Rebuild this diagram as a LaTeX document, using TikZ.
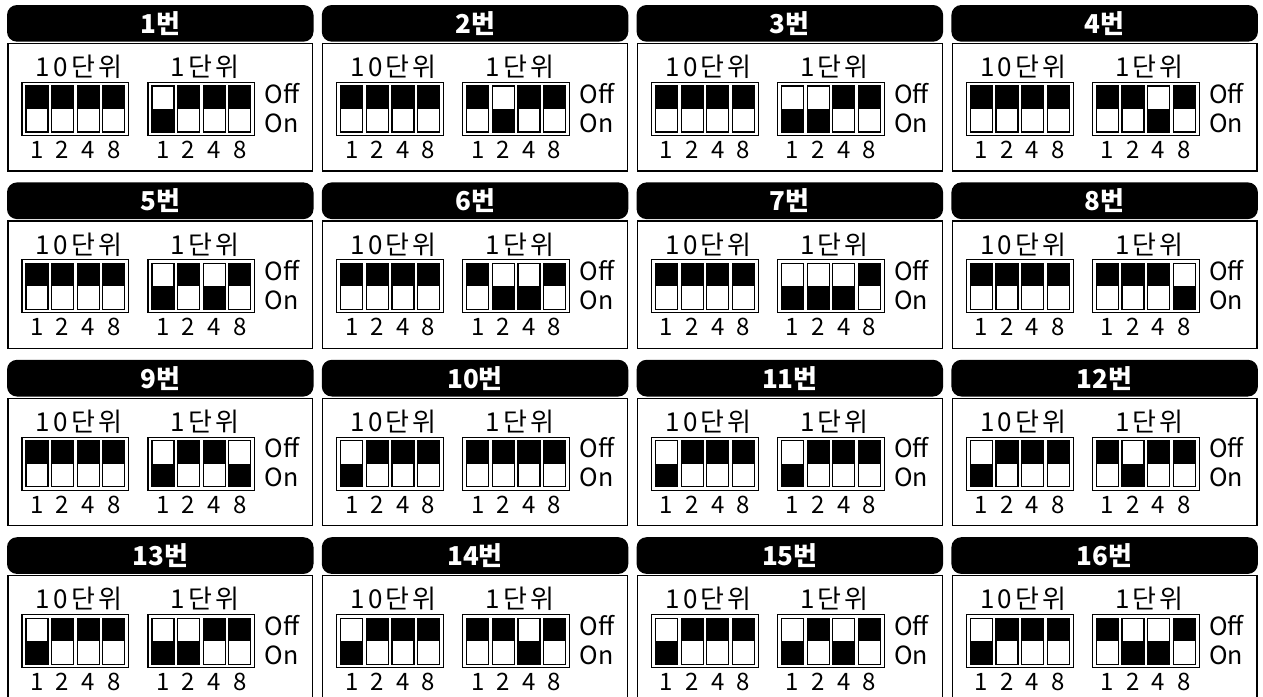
\documentclass[tikz,border=0pt]{standalone}
\usepackage{fontspec}
\setmainfont{Noto Sans CJK KR}
\newfontfamily\spacedkr[LetterSpace=12]{Noto Sans CJK KR}
\begin{document}
\begin{tikzpicture}[x=1pt,y=-1pt,
  hdr/.style={fill=black,rounded corners=10pt},
  hdrtext/.style={text=white,font=\fontsize{26}{26}\selectfont\bfseries,inner sep=0pt},
  body/.style={draw=black,line width=1.2pt},
  grp/.style={draw=black,line width=1.1pt},
  sw/.style={draw=black,line width=1.3pt},
  unit/.style={font=\spacedkr\fontsize{26}{26}\selectfont,inner sep=0pt},
  state/.style={font=\fontsize{25}{25}\selectfont,inner sep=0pt,anchor=base west},
  digit/.style={font=\fontsize{24}{24}\selectfont,inner sep=0pt,anchor=base}]
\useasboundingbox (0,0) rectangle (1263,696);
\clip (0,0) rectangle (1263,696);
\foreach \n in {1,...,16}{
  \pgfmathtruncatemacro\col{mod(\n-1,4)}
  \pgfmathtruncatemacro\row{int((\n-1)/4)}
  \pgfmathsetmacro\xo{7+314.8*\col}
  \pgfmathsetmacro\yo{5+177.4*\row}
  \pgfmathtruncatemacro\tensd{int(\n/10)}
  \pgfmathtruncatemacro\onesd{mod(\n,10)}
  \begin{scope}[shift={(\xo,\yo)}]
    \path[hdr] (0,0) rectangle (306.5,36.7);
    \node[hdrtext] (h\n) at (153.25,18.6) {\n{}번};
    \draw[body] (1,38.5) rectangle (305.5,166);
    \node[unit] (t\n) at (72,62) {10단위};
    \node[unit] (u\n) at (198,62) {1단위};
    \draw[grp] (15,77.5) rectangle (121.8,130.5);
    \draw[grp] (141,77.5) rectangle (247.8,130.5);
    \node[state] (off\n) at (257.5,98) {Off};
    \node[state] (onl\n) at (257.5,127) {On};
    \foreach \b/\v in {0/1,1/2,2/4,3/8}{
      \pgfmathsetmacro\xl{19+25.6*\b}
      \pgfmathsetmacro\xr{145+25.6*\b}
      \pgfmathtruncatemacro\bt{mod(int(\tensd/\v),2)}
      \pgfmathtruncatemacro\bo{mod(int(\onesd/\v),2)}
      \ifnum\bt=1
        \fill (\xl,104) rectangle ++(22,23);
      \else
        \fill (\xl,81) rectangle ++(22,23);
      \fi
      \draw[sw] (\xl,81) rectangle ++(22,46);
      \ifnum\bo=1
        \fill (\xr,104) rectangle ++(22,23);
      \else
        \fill (\xr,81) rectangle ++(22,23);
      \fi
      \draw[sw] (\xr,81) rectangle ++(22,46);
      \node[digit] (a\n-\b) at (\xl+11,153.5) {\v};
      \node[digit] (b\n-\b) at (\xr+11,153.5) {\v};
    }
  \end{scope}
}
\end{tikzpicture}
\end{document}
